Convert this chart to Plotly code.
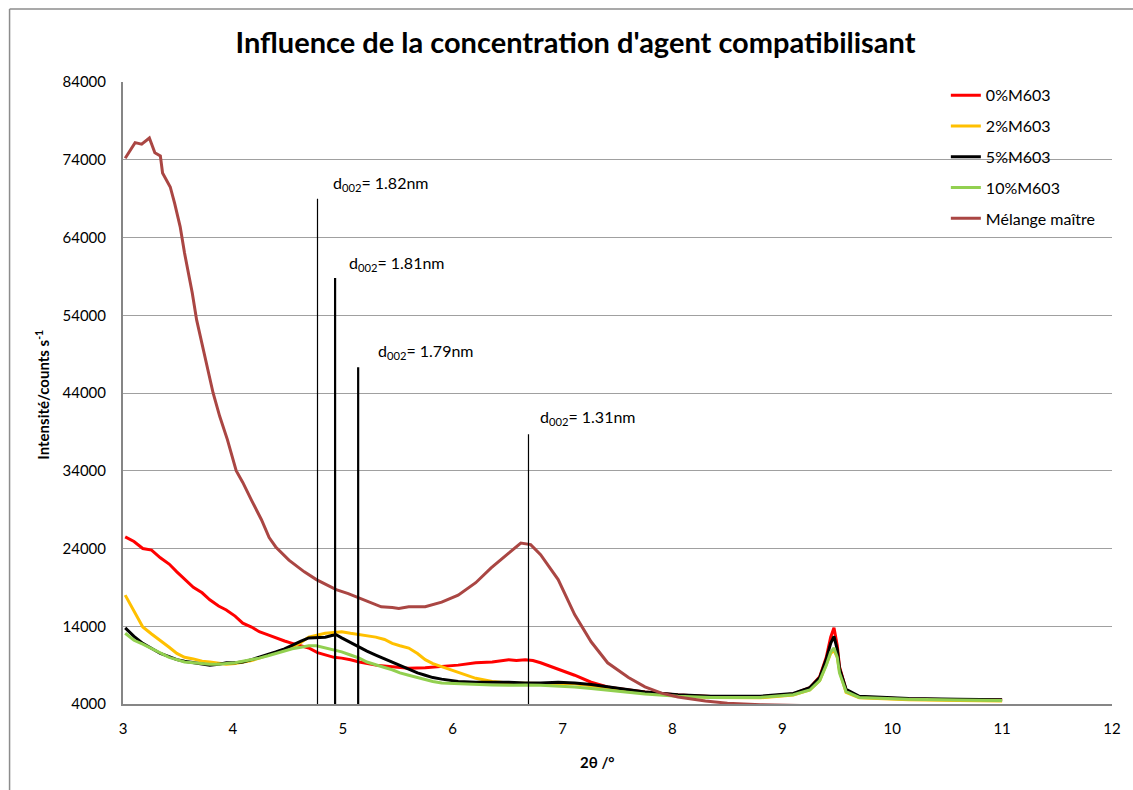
import plotly.graph_objects as go

# ---------------- data ----------------
x_red = [3.02, 3.10, 3.18, 3.26, 3.34, 3.42, 3.49, 3.56, 3.64, 3.72, 3.79, 3.87, 3.94, 4.02,
         4.09, 4.17, 4.24, 4.32, 4.39, 4.47, 4.54, 4.62, 4.69, 4.77, 4.84, 4.92, 4.99, 5.07,
         5.15, 5.22, 5.30, 5.45, 5.60, 5.75, 5.90, 6.05, 6.21, 6.36, 6.51, 6.58, 6.66, 6.73,
         6.80, 6.88, 6.96, 7.11, 7.26, 7.41, 7.50, 7.75, 8.05, 8.35, 8.80, 9.10, 9.25, 9.34,
         9.40, 9.44, 9.47, 9.50, 9.52, 9.58, 9.70, 10.15, 10.60, 11.00]
y_red = [25500, 24900, 24000, 23800, 22800, 22000, 21000, 20100, 19000, 18300, 17400, 16600, 16100, 15300,
         14400, 13900, 13300, 12900, 12500, 12100, 11800, 11500, 11200, 10600, 10300, 10000, 9900, 9700,
         9400, 9200, 9000, 8800, 8600, 8650, 8800, 9000, 9300, 9400, 9700, 9600, 9700, 9600,
         9300, 8900, 8400, 7700, 6800, 6200, 6000, 5550, 5150, 4950, 4900, 5300, 6100, 7500,
         10000, 12600, 13800, 11500, 8800, 5800, 4900, 4650, 4550, 4500]

x_yel = [3.02, 3.10, 3.18, 3.26, 3.34, 3.42, 3.49, 3.56, 3.64, 3.72, 3.79, 3.87, 3.94, 4.02,
         4.09, 4.17, 4.24, 4.32, 4.39, 4.47, 4.54, 4.62, 4.69, 4.77, 4.84, 4.92, 4.99, 5.07,
         5.15, 5.22, 5.30, 5.38, 5.45, 5.52, 5.60, 5.68, 5.75, 5.82, 5.90, 6.05, 6.21, 6.36,
         6.51, 6.80, 7.11, 7.41, 7.50, 7.75, 8.05, 8.35, 8.80, 9.10, 9.25, 9.34,
         9.40, 9.44, 9.47, 9.50, 9.52, 9.58, 9.70, 10.15, 10.60, 11.00]
y_yel = [18000, 16000, 13900, 13000, 12200, 11300, 10500, 10000, 9800, 9500, 9400, 9200, 9100, 9200,
         9400, 9600, 9900, 10300, 10700, 11000, 11300, 11900, 12600, 12900, 13100, 13200, 13300, 13100,
         12900, 12800, 12600, 12300, 11800, 11500, 11200, 10500, 9700, 9200, 8800, 8000, 7300, 6900,
         6700, 6650, 6600, 6100, 5900, 5450, 5100, 4850, 4800, 5150, 5800, 7000,
         9000, 10500, 10900, 10000, 8300, 5500, 4800, 4550, 4450, 4400]

x_blk = [3.02, 3.10, 3.18, 3.26, 3.34, 3.42, 3.49, 3.56, 3.64, 3.72, 3.79, 3.87, 3.94, 4.02,
         4.09, 4.17, 4.24, 4.32, 4.39, 4.47, 4.54, 4.62, 4.69, 4.77, 4.84, 4.90, 4.94, 4.99,
         5.07, 5.15, 5.22, 5.30, 5.38, 5.45, 5.52, 5.60, 5.68, 5.75, 5.82, 5.90, 6.05, 6.21,
         6.36, 6.51, 6.66, 6.80, 6.96, 7.11, 7.26, 7.41, 7.50, 7.75, 8.05, 8.35, 8.80, 9.10,
         9.25, 9.34, 9.40, 9.44, 9.47, 9.50, 9.52, 9.58, 9.70, 10.15, 10.60, 11.00]
y_blk = [13800, 12700, 11800, 11100, 10500, 10100, 9700, 9500, 9300, 9100, 9000, 9100, 9300, 9300,
         9400, 9700, 10000, 10300, 10700, 11100, 11600, 12100, 12500, 12600, 12600, 12800, 12900, 12500,
         11900, 11300, 10800, 10300, 9800, 9400, 8900, 8400, 8000, 7700, 7400, 7200, 6900, 6800,
         6800, 6800, 6700, 6700, 6800, 6700, 6500, 6200, 6000, 5550, 5200, 5000, 5000, 5350,
         6100, 7400, 9800, 11800, 12700, 11000, 8600, 5900, 5000, 4700, 4600, 4550]

x_grn = [3.02, 3.10, 3.18, 3.26, 3.34, 3.42, 3.49, 3.56, 3.64, 3.72, 3.79, 3.87, 3.94, 4.02,
         4.09, 4.17, 4.24, 4.32, 4.39, 4.47, 4.54, 4.62, 4.69, 4.76, 4.84, 4.92, 4.99, 5.07,
         5.15, 5.22, 5.30, 5.38, 5.45, 5.52, 5.60, 5.68, 5.75, 5.82, 5.90, 6.05, 6.21, 6.36,
         6.51, 6.66, 6.80, 6.96, 7.11, 7.26, 7.41, 7.50, 7.75, 8.05, 8.35, 8.80, 9.10,
         9.25, 9.34, 9.40, 9.44, 9.47, 9.50, 9.52, 9.58, 9.70, 10.15, 10.60, 11.00]
y_grn = [13100, 12200, 11700, 11100, 10500, 10000, 9700, 9400, 9300, 9200, 9100, 9100, 9200, 9300,
         9500, 9700, 9900, 10200, 10500, 10800, 11100, 11300, 11500, 11500, 11200, 11000, 10700, 10300,
         9900, 9400, 9000, 8700, 8400, 8000, 7700, 7400, 7100, 6900, 6700, 6600, 6500, 6450,
         6400, 6450, 6400, 6300, 6200, 6000, 5800, 5700, 5300, 5000, 4850, 4850, 5200,
         5800, 7000, 9000, 10700, 11200, 10000, 8000, 5600, 4850, 4600, 4500, 4450]

x_mm = [3.02, 3.11, 3.17, 3.24, 3.29, 3.34, 3.36, 3.43, 3.47, 3.52, 3.56, 3.59, 3.63, 3.67,
        3.74, 3.82, 3.88, 3.95, 4.03, 4.09, 4.17, 4.26, 4.33, 4.39, 4.51, 4.65, 4.76, 4.85,
        4.94, 5.05, 5.15, 5.25, 5.35, 5.45, 5.51, 5.60, 5.75, 5.90, 6.05, 6.21, 6.35, 6.51,
        6.62, 6.71, 6.80, 6.96, 7.11, 7.26, 7.41, 7.60, 7.75, 7.90, 8.05, 8.30, 8.50, 8.80,
        9.20, 9.60, 10.10]
y_mm = [74200, 76200, 76000, 76800, 74900, 74500, 72300, 70500, 68400, 65400, 62000, 59800, 56900, 53400,
        49000, 44000, 41000, 38000, 34000, 32500, 30200, 27700, 25400, 24200, 22500, 21000, 20000, 19400,
        18700, 18200, 17600, 17100, 16500, 16400, 16300, 16500, 16500, 17100, 18000, 19600, 21500, 23400,
        24700, 24500, 23200, 20000, 15500, 12000, 9300, 7400, 6200, 5400, 4900, 4400, 4100, 3900,
        3800, 3800, 3800]

series_names = ["0%M603", "2%M603", "5%M603", "10%M603", "Mélange maître"]
series_colors = ["#FF0000", "#FFC000", "#000000", "#92D050", "#AA4643"]

# d002 reference markers
d_x = [4.77, 4.93, 5.14, 6.69]
d_top = [69000, 58800, 47300, 38700]
d_width = [1.2, 2.2, 2.2, 1.2]
d_label = ["1.82nm", "1.81nm", "1.79nm", "1.31nm"]
d_label_x = [4.89, 5.04, 5.30, 6.78]
d_label_y = [71000, 60600, 49300, 40900]

x_ticks = [3, 4, 5, 6, 7, 8, 9, 10, 11, 12]
y_ticks = [4000, 14000, 24000, 34000, 44000, 54000, 64000, 74000, 84000]

FONT = "Lato, 'Open Sans', sans-serif"

fig = go.Figure()

series_x = [x_red, x_yel, x_blk, x_grn, x_mm]
series_y = [y_red, y_yel, y_blk, y_grn, y_mm]
for i, (xs, ys) in enumerate(zip(series_x, series_y)):
    fig.add_trace(go.Scatter(x=xs, y=ys, mode="lines", name=series_names[i],
                             line=dict(color=series_colors[i], width=3),
                             legendgroup=str(i)))

for xv, top, w in zip(d_x, d_top, d_width):
    fig.add_trace(go.Scatter(x=[xv, xv], y=[y_ticks[0], top], mode="lines",
                             line=dict(color="black", width=w), showlegend=False,
                             hoverinfo="skip"))

for lx, ly, lab in zip(d_label_x, d_label_y, d_label):
    fig.add_annotation(x=lx, y=ly, xref="x", yref="y", xanchor="left", yanchor="middle",
                       text="d<sub>002</sub>= " + lab, showarrow=False,
                       font=dict(family=FONT, size=16, color="black"))

# axis titles as annotations
fig.add_annotation(x=-0.0815, y=0.498, xref="paper", yref="paper", textangle=-90,
                   text="<b>Intensité/counts s<sup>-1</sup></b>", showarrow=False,
                   xanchor="center", yanchor="middle",
                   font=dict(family=FONT, size=15, color="black"))
fig.add_annotation(x=0.48, y=-0.093, xref="paper", yref="paper",
                   text="<b>2θ /°</b>", showarrow=False, xanchor="center", yanchor="middle",
                   font=dict(family=FONT, size=15, color="black"))

# chart-area border (left and top edges visible)
fig.add_shape(type="line", xref="paper", yref="paper", x0=-0.1147, x1=-0.1147,
              y0=-0.2, y1=1.1174, line=dict(color="#8C8C8C", width=1.5))
fig.add_shape(type="line", xref="paper", yref="paper", x0=-0.1147, x1=1.1,
              y0=1.1174, y1=1.1174, line=dict(color="#8C8C8C", width=1.5))

fig.update_layout(
    width=1133, height=790,
    margin=dict(l=123, r=16, t=82, b=86),
    paper_bgcolor="white", plot_bgcolor="white",
    font=dict(family=FONT, size=15, color="black"),
    title=dict(text="<b>Influence de la concentration d'agent compatibilisant</b>",
               x=0.508, xref="container", xanchor="center",
               y=1 - 43 / 790, yref="container", yanchor="middle",
               font=dict(family=FONT, size=29, color="black")),
    legend=dict(x=0.832, y=1.006, xanchor="left", yanchor="top",
                bgcolor="rgba(0,0,0,0)", borderwidth=0,
                font=dict(family=FONT, size=16, color="black"),
                tracegroupgap=7, itemwidth=30),
    xaxis=dict(range=[3, 12], tickmode="array", tickvals=x_ticks,
               ticktext=[str(v) for v in x_ticks],
               showgrid=False, zeroline=False, showline=True,
               linecolor="#868686", linewidth=2, ticks="",
               ticklabelstandoff=10, tickfont=dict(family=FONT, size=15)),
    yaxis=dict(range=[4000, 84000], tickmode="array", tickvals=y_ticks,
               ticktext=[str(v) for v in y_ticks],
               showgrid=True, gridcolor="#A0A0A0", gridwidth=1.3,
               zeroline=False, showline=True, linecolor="#868686", linewidth=2,
               ticks="", ticklabelstandoff=12, tickfont=dict(family=FONT, size=15)),
    showlegend=True,
)

fig.write_html("out.html", config={"displayModeBar": False},
               post_script="document.body.style.margin='0px';")
